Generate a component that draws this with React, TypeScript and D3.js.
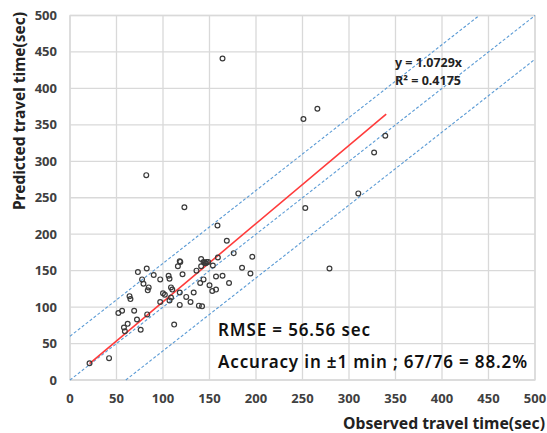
import React from "react";
import * as d3 from "d3";

const observed: number[] = [21, 42, 52, 56, 58, 59, 62, 64, 65, 69, 72, 73, 76, 77.5, 79, 82.5, 83.6, 84.6, 83, 90, 97, 97, 100, 102, 106, 107, 107, 108.6, 110, 108.6, 112, 116, 118, 118.6, 118, 118, 121, 125, 129.6, 133, 136, 138.6, 140, 141, 142, 141, 143.6, 143.6, 146, 147, 148.6, 150, 153, 153.6, 157, 157, 159, 158.6, 164, 168.6, 171, 176, 185, 194, 196, 145, 82, 123, 164, 251, 266, 339, 327, 310, 253, 279];
const predicted: number[] = [23, 30, 92, 95, 72, 67, 77, 115, 111, 95, 83, 148, 69, 138, 132, 153, 123, 127, 90, 144, 138, 107, 119, 117, 143, 139, 109, 127, 124, 113, 76, 156, 163, 162, 120, 103, 145, 114, 107, 120, 150, 102, 133, 166, 101, 156, 138, 162, 160, 162, 162, 130, 122, 157, 142, 124, 168, 212, 143, 191, 133, 174, 154, 146, 169, 161, 281, 237, 441, 358, 372, 335, 312, 256, 236, 153];
const ticks: number[] = [0, 50, 100, 150, 200, 250, 300, 350, 400, 450, 500];
const slope = 1.0729;
const fitRange: number[] = [21, 340];
const bandOffsets: number[] = [60, 0, -60];

const W = 547, H = 433;
const L = 70, R = 535, T = 15.5, B = 380;

export default function App() {
  const x = d3.scaleLinear().domain([0, 500]).range([L, R]);
  const y = d3.scaleLinear().domain([0, 500]).range([B, T]);
  const line = d3.line<[number, number]>().x(d => x(d[0])).y(d => y(d[1]));
  const font = "'Noto Sans', 'Open Sans', sans-serif";
  const bandSeg = (off: number): [number, number][] => {
    const x0 = Math.max(0, -off);
    const x1 = Math.min(500, 500 - off);
    return [[x0, x0 + off], [x1, x1 + off]];
  };
  return (
    <svg width={W} height={H} style={{ position: "absolute", left: 0, top: 0, background: "#fff" }} fontFamily={font}>
      {ticks.map(t => (
        <g key={"g" + t}>
          <line x1={x(t)} x2={x(t)} y1={T} y2={B} stroke="#d9d9d9" strokeWidth={1.3} />
          <line x1={L} x2={R} y1={y(t)} y2={y(t)} stroke="#d9d9d9" strokeWidth={1.3} />
        </g>
      ))}
      <rect x={L} y={T} width={R - L} height={B - T} fill="none" stroke="#d9d9d9" strokeWidth={1.3} />
      {ticks.map(t => (
        <text key={"xt" + t} x={x(t)} y={403} textAnchor="middle" fontSize={13} fontWeight={700} fill="#404040">{t}</text>
      ))}
      {ticks.map(t => (
        <text key={"yt" + t} x={57} y={y(t) + 4.5} textAnchor="end" fontSize={13} fontWeight={700} fill="#404040">{t}</text>
      ))}
      {bandOffsets.map(o => (
        <path key={"b" + o} d={line(bandSeg(o)) || ""} fill="none" stroke="#5b9bd5" strokeWidth={1.1} strokeDasharray="3,2" />
      ))}
      <path d={line(fitRange.map(v => [v, v * slope] as [number, number])) || ""} fill="none" stroke="#ff3b3b" strokeWidth={1.6} />
      {observed.map((o, i) => (
        <circle key={"p" + i} cx={x(o)} cy={y(predicted[i])} r={2.4} fill="none" stroke="#3a3a3a" strokeWidth={1.2} />
      ))}
      <text x={395} y={67} fontSize={12} fontWeight={700} fill="#222" textLength={67} lengthAdjust="spacingAndGlyphs">y = 1.0729x</text>
      <text x={395} y={85} fontSize={12} fontWeight={700} fill="#222" textLength={66} lengthAdjust="spacingAndGlyphs">R² = 0.4175</text>
      <text x={218} y={336} fontSize={17} fontWeight={600} fill="#111" textLength={152} lengthAdjust="spacing">RMSE = 56.56 sec</text>
      <text x={218} y={368} fontSize={17} fontWeight={600} fill="#111" textLength={309} lengthAdjust="spacing">Accuracy in ±1 min ; 67/76 = 88.2%</text>
      <text x={545} y={429} textAnchor="end" fontSize={15.5} fontWeight={700} fill="#222" textLength={202} lengthAdjust="spacingAndGlyphs">Observed travel time(sec)</text>
      <text transform="translate(25,210) rotate(-90)" textAnchor="start" fontSize={15.5} fontWeight={700} fill="#222" textLength={198} lengthAdjust="spacingAndGlyphs">Predicted travel time(sec)</text>
    </svg>
  );
}
